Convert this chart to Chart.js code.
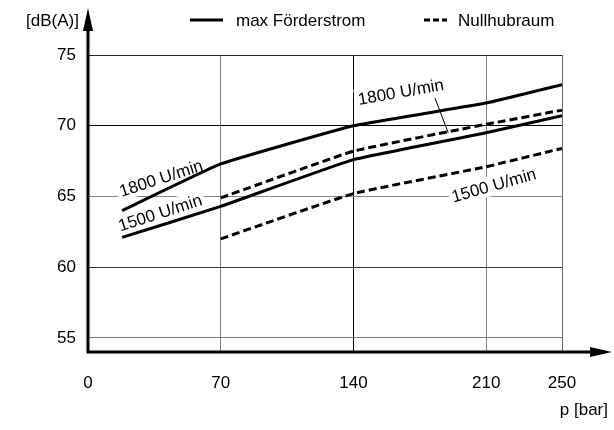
<!DOCTYPE html>
<html>
<head>
<meta charset="utf-8">
<script src="https://cdn.jsdelivr.net/npm/chart.js@4.4.0/dist/chart.umd.min.js"></script>
<style>
  html, body { margin: 0; padding: 0; background: #fff; }
  #wrap { width: 614px; height: 430px; }
</style>
</head>
<body>
<div id="wrap"><canvas id="laerm"></canvas></div>
<script>
// Schalldruckpegel ueber Druck
const druckMax   = [18, 70, 140, 210, 250];
const max1800    = [64.0, 67.3, 70.0, 71.6, 72.9];
const max1500    = [62.1, 64.3, 67.6, 69.5, 70.7];
const druckNull  = [70, 140, 210, 250];
const null1800   = [64.9, 68.2, 70.1, 71.1];
const null1500   = [62.0, 65.2, 67.1, 68.4];
const xTicks = [0, 70, 140, 210, 250];
const yTicks = [55, 60, 65, 70, 75];

const FONT = '"Liberation Sans", Arial, sans-serif';

function pts(xs, ys) {
  return xs.map((x, i) => ({ x: x, y: ys[i] }));
}

// Beschriftungen an den Kurven (Datenkoordinaten)
const kurvenText = [
  { text: '1800 U/min', x: 38.5, y: 66.3, rot: -18 },
  { text: '1500 U/min', x: 38,   y: 63.85, rot: -18 },
  { text: '1800 U/min', x: 165,  y: 72.4, rot: -10 },
  { text: '1500 U/min', x: 214,  y: 65.8, rot: -16 }
];

const xGridFarbe = { 0: '#000', 70: '#808080', 140: '#000', 210: '#808080', 250: '#666' };
const yGridFarbe = { 55: '#777', 60: '#333', 65: '#888', 70: '#000', 75: '#222' };

const extras = {
  id: 'extras',
  beforeDatasetsDraw(chart) {
    const ctx = chart.ctx, xs = chart.scales.x, ys = chart.scales.y;
    ctx.save();
    ctx.font = '17px ' + FONT;
    ctx.textAlign = 'center';
    ctx.textBaseline = 'middle';
    kurvenText.forEach(k => {
      const px = xs.getPixelForValue(k.x), py = ys.getPixelForValue(k.y);
      const w = ctx.measureText(k.text).width;
      ctx.save();
      ctx.translate(px, py);
      ctx.rotate(k.rot * Math.PI / 180);
      ctx.fillStyle = '#fff';
      ctx.fillRect(-w / 2 - 3, -10, w + 6, 20);
      ctx.fillStyle = '#000';
      ctx.fillText(k.text, 0, 1);
      ctx.restore();
    });
    // Hinweislinie zur gestrichelten 1800-Kurve
    ctx.strokeStyle = '#000';
    ctx.lineWidth = 1;
    ctx.beginPath();
    ctx.moveTo(xs.getPixelForValue(183), ys.getPixelForValue(71.95));
    ctx.lineTo(xs.getPixelForValue(190), ys.getPixelForValue(69.5));
    ctx.stroke();
    ctx.restore();
  },
  afterDraw(chart) {
    const ctx = chart.ctx, a = chart.chartArea;
    const x0 = a.left, y0 = a.bottom;
    ctx.save();
    ctx.strokeStyle = '#000';
    ctx.fillStyle = '#000';
    ctx.lineWidth = 3;
    ctx.beginPath();
    ctx.moveTo(x0, y0 + 1.5);
    ctx.lineTo(x0, 28);
    ctx.moveTo(x0 - 1.5, y0);
    ctx.lineTo(594, y0);
    ctx.stroke();
    // Pfeile
    ctx.beginPath();
    ctx.moveTo(x0, 8);
    ctx.lineTo(x0 - 5, 31);
    ctx.lineTo(x0 + 5, 31);
    ctx.closePath();
    ctx.fill();
    ctx.beginPath();
    ctx.moveTo(612, y0);
    ctx.lineTo(590, y0 - 5);
    ctx.lineTo(590, y0 + 5);
    ctx.closePath();
    ctx.fill();

    ctx.font = '17px ' + FONT;
    ctx.textBaseline = 'middle';
    ctx.textAlign = 'right';
    ctx.fillText('[dB(A)]', 79, 21);
    ctx.fillText('p [bar]', 608, 410);

    // Legende
    ctx.textAlign = 'left';
    ctx.lineWidth = 3;
    ctx.beginPath();
    ctx.moveTo(190, 20);
    ctx.lineTo(223, 20);
    ctx.stroke();
    ctx.fillText('max Förderstrom', 236, 21);
    ctx.setLineDash([6, 3]);
    ctx.beginPath();
    ctx.moveTo(424, 20);
    ctx.lineTo(447, 20);
    ctx.stroke();
    ctx.setLineDash([]);
    ctx.fillText('Nullhubraum', 458, 21);
    ctx.restore();
  }
};

const linie = { borderColor: '#000', borderWidth: 3, pointRadius: 0, tension: 0.1,
  borderJoinStyle: 'round', fill: false };

new Chart(document.getElementById('laerm'), {
  type: 'line',
  data: {
    datasets: [
      Object.assign({ label: 'max Förderstrom 1800', data: pts(druckMax, max1800) }, linie),
      Object.assign({ label: 'max Förderstrom 1500', data: pts(druckMax, max1500) }, linie),
      Object.assign({ label: 'Nullhubraum 1800', data: pts(druckNull, null1800), borderDash: [8, 4] }, linie),
      Object.assign({ label: 'Nullhubraum 1500', data: pts(druckNull, null1500), borderDash: [8, 4] }, linie)
    ]
  },
  options: {
    responsive: true,
    maintainAspectRatio: false,
    animation: false,
    layout: { padding: { top: 55, right: 52, left: 0, bottom: 0 } },
    plugins: { legend: { display: false }, tooltip: { enabled: false } },
    scales: {
      x: {
        type: 'linear', min: 0, max: 250,
        afterBuildTicks: s => { s.ticks = xTicks.map(v => ({ value: v })); },
        afterFit: s => { s.height = 78; },
        border: { display: false },
        grid: { drawTicks: false, lineWidth: 1, color: c => xGridFarbe[c.tick.value] || '#777' },
        ticks: { padding: 21, color: '#000', font: { family: FONT, size: 17 }, maxRotation: 0 }
      },
      y: {
        type: 'linear', min: 54, max: 75,
        afterBuildTicks: s => { s.ticks = yTicks.map(v => ({ value: v })); },
        afterFit: s => { s.width = 88; },
        border: { display: false },
        grid: { drawTicks: false, lineWidth: 1, color: c => yGridFarbe[c.tick.value] || '#777' },
        ticks: { padding: 12, color: '#000', font: { family: FONT, size: 17 } }
      }
    }
  },
  plugins: [extras]
});
</script>
</body>
</html>
